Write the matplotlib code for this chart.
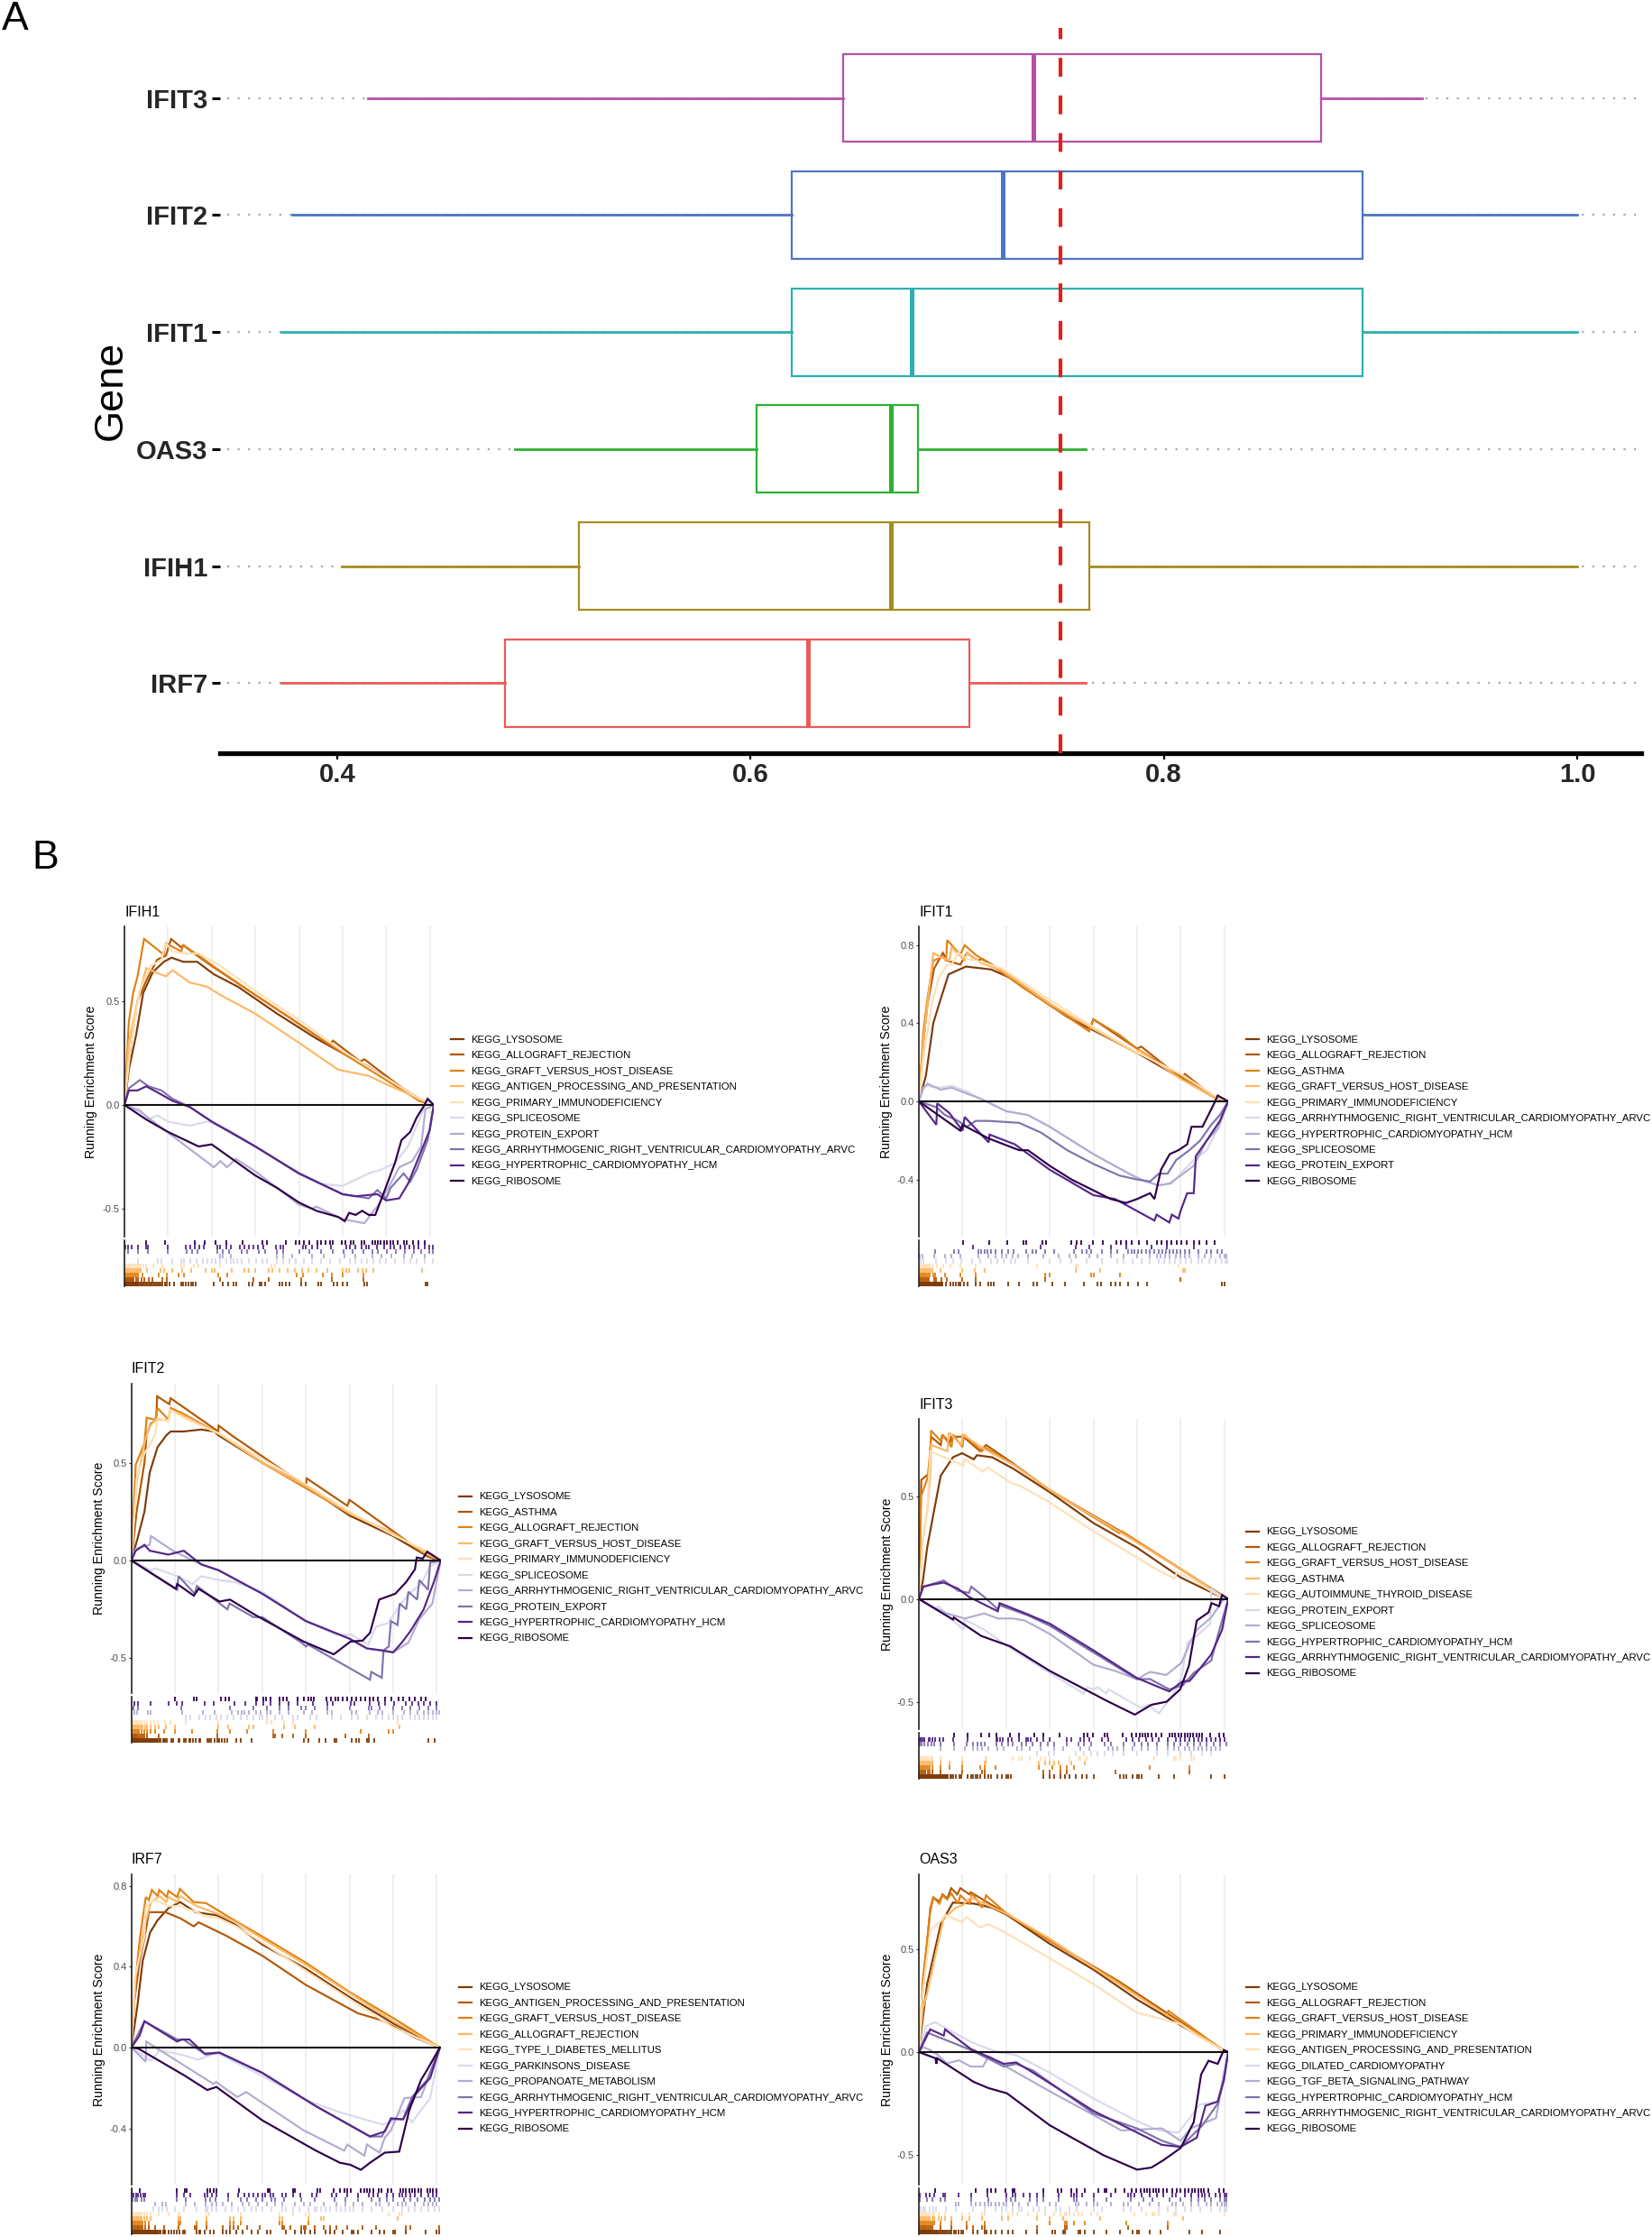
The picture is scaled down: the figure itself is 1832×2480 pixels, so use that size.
import matplotlib
matplotlib.use("Agg")
import matplotlib.pyplot as plt
from matplotlib.lines import Line2D

plt.rcParams['font.family'] = ['Liberation Sans', 'DejaVu Sans']

W, H = 1832, 2480

# ---------------- Panel A data ----------------
genes = ['IRF7', 'IFIH1', 'OAS3', 'IFIT1', 'IFIT2', 'IFIT3']
box_low = [0.373, 0.402, 0.486, 0.373, 0.378, 0.415]
box_q1 = [0.481, 0.517, 0.603, 0.620, 0.620, 0.645]
box_med = [0.628, 0.668, 0.668, 0.678, 0.722, 0.737]
box_q3 = [0.706, 0.764, 0.681, 0.896, 0.896, 0.876]
box_high = [0.762, 1.000, 0.762, 1.000, 1.000, 0.925]
box_colors = ['#EA5B5B', '#A58C1E', '#2DB034', '#2BAFB0', '#4C76C4', '#B94FA8']
dot_low = 0.347
dot_high = 1.03
threshold = 0.75
x_ticks_a = [0.4, 0.6, 0.8, 1.0]

# ---------------- Panel B data ----------------
palette = ['#7F3B08', '#B35806', '#E08214', '#FDB863', '#FEE0B6',
           '#D8DAEB', '#B2ABD2', '#8073AC', '#542788', '#2D004B']

IFIH1_terms = ['KEGG_LYSOSOME', 'KEGG_ALLOGRAFT_REJECTION', 'KEGG_GRAFT_VERSUS_HOST_DISEASE',
               'KEGG_ANTIGEN_PROCESSING_AND_PRESENTATION', 'KEGG_PRIMARY_IMMUNODEFICIENCY',
               'KEGG_SPLICEOSOME', 'KEGG_PROTEIN_EXPORT',
               'KEGG_ARRHYTHMOGENIC_RIGHT_VENTRICULAR_CARDIOMYOPATHY_ARVC',
               'KEGG_HYPERTROPHIC_CARDIOMYOPATHY_HCM', 'KEGG_RIBOSOME']
IFIT1_terms = ['KEGG_LYSOSOME', 'KEGG_ALLOGRAFT_REJECTION', 'KEGG_ASTHMA',
               'KEGG_GRAFT_VERSUS_HOST_DISEASE', 'KEGG_PRIMARY_IMMUNODEFICIENCY',
               'KEGG_ARRHYTHMOGENIC_RIGHT_VENTRICULAR_CARDIOMYOPATHY_ARVC',
               'KEGG_HYPERTROPHIC_CARDIOMYOPATHY_HCM', 'KEGG_SPLICEOSOME',
               'KEGG_PROTEIN_EXPORT', 'KEGG_RIBOSOME']
IFIT2_terms = ['KEGG_LYSOSOME', 'KEGG_ASTHMA', 'KEGG_ALLOGRAFT_REJECTION',
               'KEGG_GRAFT_VERSUS_HOST_DISEASE', 'KEGG_PRIMARY_IMMUNODEFICIENCY',
               'KEGG_SPLICEOSOME', 'KEGG_ARRHYTHMOGENIC_RIGHT_VENTRICULAR_CARDIOMYOPATHY_ARVC',
               'KEGG_PROTEIN_EXPORT', 'KEGG_HYPERTROPHIC_CARDIOMYOPATHY_HCM', 'KEGG_RIBOSOME']
IFIT3_terms = ['KEGG_LYSOSOME', 'KEGG_ALLOGRAFT_REJECTION', 'KEGG_GRAFT_VERSUS_HOST_DISEASE',
               'KEGG_ASTHMA', 'KEGG_AUTOIMMUNE_THYROID_DISEASE', 'KEGG_PROTEIN_EXPORT',
               'KEGG_SPLICEOSOME', 'KEGG_HYPERTROPHIC_CARDIOMYOPATHY_HCM',
               'KEGG_ARRHYTHMOGENIC_RIGHT_VENTRICULAR_CARDIOMYOPATHY_ARVC', 'KEGG_RIBOSOME']
IRF7_terms = ['KEGG_LYSOSOME', 'KEGG_ANTIGEN_PROCESSING_AND_PRESENTATION',
              'KEGG_GRAFT_VERSUS_HOST_DISEASE', 'KEGG_ALLOGRAFT_REJECTION',
              'KEGG_TYPE_I_DIABETES_MELLITUS', 'KEGG_PARKINSONS_DISEASE',
              'KEGG_PROPANOATE_METABOLISM',
              'KEGG_ARRHYTHMOGENIC_RIGHT_VENTRICULAR_CARDIOMYOPATHY_ARVC',
              'KEGG_HYPERTROPHIC_CARDIOMYOPATHY_HCM', 'KEGG_RIBOSOME']
OAS3_terms = ['KEGG_LYSOSOME', 'KEGG_ALLOGRAFT_REJECTION', 'KEGG_GRAFT_VERSUS_HOST_DISEASE',
              'KEGG_PRIMARY_IMMUNODEFICIENCY', 'KEGG_ANTIGEN_PROCESSING_AND_PRESENTATION',
              'KEGG_DILATED_CARDIOMYOPATHY', 'KEGG_TGF_BETA_SIGNALING_PATHWAY',
              'KEGG_HYPERTROPHIC_CARDIOMYOPATHY_HCM',
              'KEGG_ARRHYTHMOGENIC_RIGHT_VENTRICULAR_CARDIOMYOPATHY_ARVC', 'KEGG_RIBOSOME']

IFIH1_curves = [
 ([0,.1,.27,.43,.65,.9,1.08,1.35,1.67,2.05,2.6,3.5,4.4,5.0,5.55,6.0,6.76,7.09],
  [0,.17,.34,.54,.64,.69,.71,.69,.69,.63,.57,.44,.32,.25,.19,.13,.03,0]),
 ([0,.15,.3,.5,.75,.95,1.07,1.3,1.35,1.6,2.0,2.5,3.0,3.8,4.7,4.78,5.4,5.5,6.0,6.76,7.09],
  [0,.3,.5,.6,.7,.72,.80,.76,.77,.73,.67,.6,.53,.42,.29,.31,.21,.22,.14,.02,0]),
 ([0,.1,.2,.3,.45,.9,.95,1.3,1.35,1.7,2.1,3,4,5,6,6.76,7.09],
  [0,.4,.54,.62,.80,.725,.78,.74,.77,.72,.66,.53,.39,.25,.12,.02,0]),
 ([0,.1,.3,.5,.7,.95,1.1,1.5,1.9,2.2,3,4,4.9,5.6,6,6.76,7.09],
  [0,.3,.5,.66,.64,.62,.65,.59,.57,.53,.44,.3,.17,.14,.10,.03,0]),
 ([0,.15,.35,.6,.85,.95,1.1,1.4,1.7,2.2,3,4,5,6,6.76,7.09],
  [0,.3,.55,.67,.70,.78,.74,.73,.73,.67,.55,.41,.26,.13,.03,0]),
 ([0,.35,.55,.75,1,1.5,1.9,2.4,3,3.7,4.5,5,5.2,5.4,5.6,5.9,6.2,6.5,6.8,6.95,7.09],
  [0,-.02,-.07,-.05,-.08,-.10,-.08,-.12,-.2,-.29,-.38,-.39,-.37,-.35,-.33,-.31,-.28,-.2,-.05,.02,0]),
 ([0,.35,2.05,2.2,2.35,2.55,3,4,4.3,4.4,4.7,5.0,5.5,5.75,5.8,6.1,6.3,6.6,6.8,6.9,7.09],
  [0,-.03,-.3,-.27,-.30,-.26,-.32,-.48,-.50,-.49,-.52,-.55,-.57,-.5,-.49,-.38,-.3,-.27,-.2,-.02,0]),
 ([0,.1,.35,.55,.85,1.1,1.5,2,3,4,5,5.3,5.6,5.8,6,6.1,6.4,6.55,6.7,6.95,7.09],
  [0,.08,.12,.09,.07,.03,-.01,-.08,-.2,-.33,-.43,-.44,-.45,-.41,-.45,-.40,-.33,-.37,-.31,-.17,0]),
 ([0,.1,.3,.5,.85,1.1,1.5,2,3,4,5,5.3,5.8,6,6.3,6.5,6.75,7,7.09],
  [0,.07,.07,.09,.05,.02,-.01,-.08,-.2,-.33,-.43,-.44,-.43,-.46,-.45,-.38,-.25,-.12,0]),
 ([0,.5,1,1.7,2,2.4,3,3.5,4,4.4,4.9,5.05,5.15,5.3,5.45,5.6,5.75,5.95,6.2,6.35,6.55,6.7,6.85,6.95,7.09],
  [0,-.07,-.13,-.2,-.19,-.25,-.34,-.4,-.47,-.51,-.54,-.56,-.52,-.53,-.51,-.53,-.53,-.42,-.28,-.17,-.13,-.06,-.01,.03,0]),
]
IFIT1_curves = [
 ([0,.16,.33,.48,.68,1.08,1.66,2.11,3.38,4.99,6.77,7.09],
  [0,.13,.40,.51,.65,.69,.675,.63,.435,.25,.02,0]),
 ([0,.1,.2,.35,.55,.65,.95,1.1,1.35,1.45,1.9,3,3.9,4,5,5.1,6,6.1,6.77,7.09],
  [0,.3,.5,.68,.76,.72,.70,.76,.72,.73,.67,.50,.36,.42,.27,.28,.12,.14,.02,0]),
 ([0,.1,.2,.33,.55,.62,.65,.95,1.05,1.3,1.5,1.9,2.4,3.9,4.0,4.6,5,6,6.77,7.09],
  [0,.35,.53,.72,.74,.72,.825,.75,.80,.75,.72,.66,.58,.36,.42,.34,.27,.13,.02,0]),
 ([0,.1,.2,.33,.5,.7,.75,1.05,1.1,1.4,1.9,3,4,5,5.05,6,6.77,7.09],
  [0,.3,.5,.76,.74,.72,.79,.72,.76,.71,.67,.50,.37,.245,.26,.115,.02,0]),
 ([0,.12,.3,.45,.65,.75,.9,1.1,1.5,1.9,3,4,5,6,6.77,7.09],
  [0,.25,.5,.63,.70,.70,.76,.73,.71,.68,.52,.38,.25,.14,.03,0]),
 ([0,.08,.15,.45,.75,1.1,1.45,2,2.5,3,3.5,4,4.9,5.2,5.5,5.8,6.0,6.3,6.6,6.9,7.09],
  [0,.05,.08,.07,.08,.05,.01,-.05,-.07,-.13,-.2,-.27,-.38,-.41,-.43,-.42,-.37,-.3,-.25,-.12,0]),
 ([0,.1,.2,.5,.75,1.1,1.45,2,2.5,3,3.5,4,4.9,5.2,5.5,5.75,6,6.3,6.6,6.85,7.09],
  [0,.07,.09,.06,.07,.04,.01,-.05,-.07,-.13,-.2,-.27,-.38,-.41,-.43,-.42,-.38,-.33,-.2,-.14,0]),
 ([0,.4,.6,.9,1.1,1.3,1.6,2.3,2.8,3.4,4,4.6,5.0,5.3,5.5,5.7,5.9,6.2,6.45,6.7,6.9,7.09],
  [0,-.03,-.07,-.1,-.13,-.1,-.1,-.11,-.16,-.25,-.32,-.38,-.40,-.41,-.37,-.37,-.30,-.25,-.2,-.12,-.07,0]),
 ([0,.4,.42,.7,1.0,1.05,1.6,1.62,2.2,3,4,4.5,5.4,5.45,5.74,5.8,5.95,6,6.15,6.3,6.35,6.6,6.9,7.09],
  [0,-.12,-.01,-.06,-.15,-.08,-.21,-.17,-.22,-.35,-.48,-.50,-.61,-.58,-.62,-.58,-.6,-.56,-.47,-.47,-.28,-.2,-.1,0]),
 ([0,.95,1.0,1.6,2.3,2.5,3,3.5,4.4,4.75,5.0,5.3,5.4,5.55,5.75,5.95,6.15,6.25,6.5,6.77,6.85,7.09],
  [0,-.15,-.12,-.19,-.25,-.25,-.33,-.40,-.50,-.52,-.5,-.47,-.5,-.35,-.27,-.25,-.22,-.13,-.13,-.01,.03,0]),
]
IFIT2_curves = [
 ([0,.15,.3,.42,.6,.8,.9,1.2,1.6,1.9,2.0,3,4,5,6,6.8,7.09],
  [0,.12,.25,.45,.58,.64,.66,.66,.67,.66,.64,.50,.38,.23,.125,.02,0]),
 ([0,.12,.3,.35,.45,.57,.59,.87,.9,1.99,2.0,2.3,4,4.02,4.95,5.0,6,6.8,7.09],
  [0,.25,.5,.65,.70,.72,.84,.80,.83,.66,.69,.64,.38,.42,.28,.31,.15,.02,0]),
 ([0,.1,.3,.35,.55,.6,.85,.9,1.2,2,3,4,5,6,6.8,7.09],
  [0,.49,.6,.73,.72,.78,.72,.78,.75,.65,.50,.37,.24,.14,.03,0]),
 ([0,.12,.3,.4,.55,.85,.9,1.3,2,3,4,5,6,6.8,7.09],
  [0,.4,.6,.68,.72,.72,.77,.73,.65,.5,.38,.24,.14,.03,0]),
 ([0,.12,.3,.45,.55,.6,.85,.9,1.2,2,3,4,5,6,6.85,7.09],
  [0,.42,.55,.6,.65,.73,.71,.77,.73,.65,.52,.39,.25,.13,.04,0]),
 ([0,.45,.54,1.05,1.4,1.6,2,2.37,3,4,4.7,5.05,5.43,5.6,5.88,6.16,6.36,6.64,6.85,7.09],
  [0,-.05,-.04,-.08,-.12,-.08,-.1,-.11,-.16,-.31,-.38,-.38,-.43,-.34,-.32,-.23,-.17,-.12,-.03,0]),
 ([0,.1,.42,.45,.95,1.5,2,3,4,5,5.4,5.7,6,6.35,6.6,6.9,7.09],
  [0,.06,.08,.125,.05,-.01,-.05,-.17,-.31,-.40,-.45,-.46,-.47,-.42,-.30,-.22,0]),
 ([0,1.05,1.08,1.45,1.5,2.2,2.25,2.8,3,3.9,4,4.05,5.47,5.5,5.74,5.78,5.9,5.95,6.1,6.15,6.3,6.35,6.55,6.6,6.8,6.85,7.09],
  [0,-.15,-.08,-.17,-.13,-.25,-.22,-.29,-.29,-.42,-.44,-.43,-.61,-.57,-.6,-.46,-.44,-.31,-.33,-.22,-.25,-.16,-.2,-.1,-.15,-.01,0]),
 ([0,.1,.3,.42,.85,1.2,1.6,2,3,4,5,5.4,5.75,6,6.2,6.4,6.7,6.95,7.09],
  [0,.05,.08,.05,.03,.05,-.02,-.05,-.17,-.31,-.40,-.45,-.46,-.47,-.42,-.36,-.25,-.10,0]),
 ([0,1.02,1.05,1.43,1.54,2.02,2.26,2.85,3.95,4.64,5.02,5.3,5.47,5.68,6.05,6.3,6.5,6.54,6.68,6.78,7.09],
  [0,-.145,-.12,-.18,-.145,-.21,-.2,-.28,-.415,-.48,-.415,-.41,-.37,-.2,-.17,-.11,-.045,.015,.01,.045,0]),
]
IFIT3_curves = [
 ([0,.09,.19,.33,.5,.78,.99,1.26,1.33,1.68,2.16,3,4,5,6,6.92,7.09],
  [0,.085,.25,.41,.6,.69,.71,.68,.70,.69,.635,.52,.37,.25,.105,.01,0]),
 ([0,.055,.23,.26,.28,.5,.54,.71,.74,1.02,1.4,1.54,2.16,3,4.54,6.19,7.09],
  [0,.58,.61,.72,.79,.75,.80,.76,.79,.79,.72,.75,.66,.53,.34,.12,0]),
 ([0,.05,.2,.26,.28,.5,.54,.75,.78,1.0,1.03,1.45,1.5,2.2,3,4.6,4.65,6.2,6.9,7.09],
  [0,.5,.59,.72,.82,.77,.80,.74,.80,.74,.80,.72,.74,.65,.53,.32,.33,.12,.02,0]),
 ([0,.1,.2,.26,.28,.65,.69,.98,1.0,1.5,2.2,3,4.5,6.2,6.9,7.09],
  [0,.3,.45,.6,.75,.72,.81,.75,.80,.73,.65,.53,.34,.12,.02,0]),
 ([0,.1,.2,.26,1.02,1.05,1.47,1.57,2.16,2.33,3,4,5.4,5.85,5.92,6.23,6.92,7.09],
  [0,.3,.45,.72,.65,.68,.62,.64,.56,.55,.47,.33,.15,.10,.13,.10,.01,0]),
 ([0,.38,.45,1.02,1.05,1.5,2.1,3,3.78,3.85,4.02,4.1,4.3,4.35,5.09,5.26,5.5,5.81,6.02,6.16,6.37,6.68,6.7,6.95,7.09],
  [0,-.045,-.035,-.15,-.1,-.15,-.24,-.36,-.46,-.43,-.44,-.43,-.46,-.44,-.53,-.515,-.557,-.47,-.38,-.21,-.18,-.12,.05,.01,0]),
 ([0,.38,.64,1.05,1.5,1.81,2.16,2.43,3,4,4.5,5,5.3,5.67,6.02,6.2,6.37,6.7,6.99,7.09],
  [0,-.045,-.07,-.095,-.07,-.095,-.095,-.105,-.17,-.32,-.35,-.39,-.355,-.37,-.31,-.22,-.15,-.09,0,0]),
 ([0,.1,.57,.9,1.15,1.2,1.5,1.81,1.85,2.5,3,4,5,5.3,5.74,6.05,6.3,6.7,6.85,7.09],
  [0,.06,.09,.04,.03,.06,.01,-.05,-.03,-.08,-.13,-.26,-.39,-.39,-.44,-.42,-.36,-.3,-.18,0]),
 ([0,.1,.3,.57,.9,1.15,1.81,1.85,2.5,3,4,5,5.74,6.05,6.2,6.4,6.7,6.95,7.09],
  [0,.06,.07,.08,.05,.01,-.06,-.02,-.075,-.12,-.25,-.385,-.45,-.40,-.4,-.35,-.27,-.15,0]),
 ([0,.78,.8,1.43,2.09,3,4.3,4.95,5.33,5.68,5.99,6.19,6.37,6.64,6.71,6.88,6.95,7.09],
  [0,-.1,-.09,-.18,-.23,-.35,-.495,-.563,-.515,-.5,-.44,-.325,-.105,-.065,-.02,-.035,.02,0]),
]
IRF7_curves = [
 ([0,.14,.26,.43,.6,.85,1.12,1.47,1.95,2.37,3,4,5,6,7.07],
  [0,.21,.43,.57,.63,.69,.72,.67,.655,.61,.51,.39,.25,.12,0]),
 ([0,.055,.19,.3,.4,.78,1.12,1.43,1.54,2.16,3,4,5.19,5.74,6.5,7.07],
  [0,.21,.43,.54,.67,.67,.64,.60,.62,.555,.455,.31,.17,.135,.05,0]),
 ([0,.1,.2,.33,.4,.47,.6,.64,.81,.85,1.05,1.11,1.43,1.71,2.4,3,4,5,6.05,7.07],
  [0,.35,.55,.745,.73,.78,.75,.78,.745,.775,.745,.785,.72,.715,.625,.55,.42,.275,.14,0]),
 ([0,.1,.3,.45,.65,.8,.85,1.05,1.11,1.5,2,2.4,3,4,5,6,7.07],
  [0,.35,.6,.72,.75,.72,.745,.72,.75,.70,.66,.62,.54,.41,.27,.13,0]),
 ([0,.08,.3,.33,.5,.55,.85,1.1,1.5,1.7,2,2.4,3,4,5,6,7.07],
  [0,.35,.55,.7,.73,.73,.70,.70,.67,.65,.64,.6,.52,.38,.24,.10,0]),
 ([0,.45,.64,1.05,1.54,1.95,3,4,4.78,5.74,5.95,6.23,6.43,6.85,7.07],
  [0,-.065,-.015,-.03,-.06,-.025,-.14,-.26,-.32,-.38,-.37,-.31,-.37,-.25,0]),
 ([0,.33,.34,1.88,1.94,2.43,2.63,3.95,4.88,4.95,5.34,5.4,5.69,5.81,5.95,6.26,6.64,7.07],
  [0,-.07,.03,-.18,-.17,-.245,-.22,-.41,-.51,-.48,-.535,-.48,-.52,-.445,-.41,-.25,-.245,0]),
 ([0,.3,1.05,1.19,1.71,2.02,3,4.23,5.47,5.74,5.95,6.23,6.43,6.78,7.07],
  [0,.13,.04,.04,-.035,-.025,-.125,-.29,-.44,-.44,-.355,-.355,-.245,-.16,0]),
 ([0,.19,.3,1.05,1.16,1.33,1.68,2.02,3,4.23,5.47,5.81,5.95,6.23,6.5,6.85,7.07],
  [0,.06,.13,.03,.04,.04,-.03,-.025,-.125,-.29,-.44,-.415,-.35,-.355,-.235,-.15,0]),
 ([0,.16,1.23,1.74,1.95,3,4.23,4.78,5.02,5.26,5.47,5.81,6.14,6.37,6.64,6.78,7.07],
  [0,-.005,-.14,-.21,-.195,-.36,-.51,-.57,-.58,-.605,-.57,-.52,-.515,-.31,-.16,-.11,0]),
]
OAS3_curves = [
 ([0,.1,.19,.33,.5,.78,1.26,1.68,2.02,3,4,5,6,6.97,7.09],
  [0,.18,.33,.46,.62,.725,.72,.70,.665,.525,.40,.255,.13,.01,0]),
 ([0,.09,.26,.33,.47,.54,.65,.74,.88,.95,1.16,1.19,1.54,2.02,3,4.57,5.68,6.97,7.09],
  [0,.30,.695,.75,.73,.765,.745,.795,.765,.795,.765,.775,.73,.67,.54,.345,.19,.01,0]),
 ([0,.09,.26,.33,.47,.54,.65,.74,.9,.95,1.16,1.22,1.45,1.54,2.02,3,4.5,5.68,5.72,6.97,7.09],
  [0,.35,.68,.75,.72,.76,.74,.77,.72,.76,.72,.77,.70,.76,.67,.54,.35,.18,.2,.01,0]),
 ([0,.09,.19,.4,.57,.85,1.02,1.19,1.4,2.02,3,4,5.68,6.97,7.09],
  [0,.21,.285,.49,.65,.70,.715,.75,.73,.67,.55,.41,.18,.01,0]),
 ([0,.055,.26,.5,.6,.99,1.09,1.4,1.6,2.02,3,4,5,5.4,6,6.37,6.97,7.09],
  [0,.23,.59,.635,.665,.63,.655,.605,.62,.575,.455,.33,.19,.17,.135,.08,.01,0]),
 ([0,.16,.37,1.19,1.54,1.81,2.23,3,4,5,5.5,5.95,6.19,6.43,6.85,7.09],
  [0,.125,.145,.05,.02,0,-.015,-.1,-.225,-.335,-.38,-.39,-.325,-.255,-.24,0]),
 ([0,.09,.26,.43,.64,.92,1.19,1.47,1.6,1.95,3,4,4.64,5.57,6,6.23,6.81,7.09],
  [0,.025,.01,-.013,-.055,-.04,-.07,-.07,-.02,-.065,-.19,-.305,-.38,-.37,-.43,-.37,-.32,0]),
 ([0,.19,1.19,1.95,2.23,2.62,4,5,5.57,6,6.5,6.85,6.99,7.09],
  [0,.095,.01,-.07,-.057,-.09,-.297,-.37,-.43,-.46,-.355,-.25,-.137,0]),
 ([0,.26,.57,.6,1.19,1.95,2.23,2.62,4,5,5.57,6,6.37,6.57,6.85,6.99,7.09],
  [0,.11,.08,.11,.015,-.057,-.05,-.1,-.285,-.39,-.45,-.46,-.415,-.26,-.24,-.137,0]),
 ([0,.38,.4,.42,1.26,1.6,2.02,3,4.23,5,5.33,5.6,6,6.3,6.47,6.64,6.85,6.99,7.09],
  [0,-.03,-.057,-.03,-.145,-.175,-.2,-.355,-.5,-.57,-.56,-.525,-.465,-.34,-.108,-.042,-.057,.01,0]),
]

# Rug hit positions, in hundredths of a gridline interval, listed by term
IFIH1_rug = [
 [0,2,4,6,8,10,12,14,16,18,20,22,24,26,28,31,34,37,40,43,46,49,52,56,60,63,66,70,74,78,82,86,92,97,103,113,130,135,140,146,152,157,163,205,225,238,250,256,285,294,310,315,322,355,361,370,378,405,415,445,450,480,487,500,510,550,557,690,695],
 [0,2,4,6,8,10,12,14,16,18,20,26,32,40,46,55,65,86,97,220,296,330,405,475,548],
 [0,3,6,9,12,15,18,21,24,27,30,41,78,97,124,136,216,236,395,410,455,475,500,548],
 [1,4,7,10,13,16,19,22,25,28,31,34,38,52,82,90,110,133,152,187,200,207,246,275,285,300,330,340,355,375,390,407,422,440,465,500,508,515,535,545,555,570,682],
 [2,6,10,14,18,22,26,30,34,38,44,50,66,86,130,136,160,170,220,337,345],
 [30,76,85,109,131,136,150,165,180,190,200,209,219,233,243,250,258,268,285,302,316,326,350,364,378,392,412,430,450,471,495,516,530,543,557,570,585,600,620,640,655,670,688,706],
 [219,226,243,350,364,385,430,457,505,530,568,590,612,640,660,688],
 [9,30,54,99,143,155,168,212,226,240,268,282,309,323,350,364,402,423,450,478,502,523,547,568,581,602,623,643,664,681,699,706],
 [2,9,16,30,50,54,99,140,150,161,171,181,212,219,233,243,264,274,285,295,305,319,347,357,364,409,416,430,443,474,509,516,530,543,554,561,578,595,609,619,633,643,654,664,674,688,699,706],
 [0,50,92,161,185,209,233,271,316,326,371,392,402,412,423,443,450,461,471,478,499,506,519,526,543,550,568,574,581,588,595,602,609,616,626,640,647,661,674,688],
]
IFIT1_rug = [
 [0,2,4,6,8,10,12,14,16,18,20,22,24,26,28,30,32,34,36,38,40,42,44,46,48,50,52,54,62,72,78,84,90,96,103,112,130,140,160,165,172,205,230,262,270,305,335,378,410,418,440,450,460,480,502,522,695,700],
 [0,2,4,7,10,13,16,19,22,35,40,52,64,100,130,290,600],
 [1,4,7,10,13,16,20,25,34,38,60,95,130,290,300,395,400,460],
 [1,4,7,10,13,16,19,22,26,32,50,100,128,150,360,415,605,610],
 [0,3,6,9,12,15,18,21,25,30,42,55,72,95,130,270,360,364,595],
 [5,10,40,62,78,97,122,140,165,180,195,210,222,250,300,325,350,385,420,455,470,490,510,530,550,562,575,588,600,612,625,640,650,665,680,695,702,706],
 [3,8,35,60,75,95,137,160,175,190,200,215,228,250,285,320,345,360,390,410,440,470,500,530,545,555,565,575,590,600,610,620,640,655,670,690,700,705],
 [37,80,90,137,142,150,158,166,175,190,205,218,245,260,268,290,310,355,375,385,395,420,440,455,480,487,495,502,510,520,530,540,550,558,566,575,583,592,600,610,620,640,660,670,685,695],
 [125,280,359,390,441,476,533,568,631],
 [102,162,203,240,246,283,292,349,361,372,398,422,453,464,476,487,505,522,545,556,568,579,591,602,614,631,642,660,677],
]
IFIT2_rug = [
 [1,3,5,7,9,11,13,15,17,19,21,23,25,27,29,31,33,35,37,39,41,43,45,47,49,51,53,55,57,59,61,64,67,72,75,78,82,92,95,108,111,120,125,132,136,142,148,155,158,175,178,182,190,197,202,208,213,220,240,250,275,395,405,430,445,465,470,505,515,522,540,545,556,680,695],
 [0,2,4,6,8,10,14,18,22,26,30,36,62,198,325,330,345,370,400,490,545],
 [0,3,6,9,12,15,18,24,30,36,44,55,75,100,140,198,225,265,325,400,525,590,600],
 [0,3,6,9,12,15,18,22,26,31,35,45,55,62,80,100,200,222,270,280,350,375,420,615],
 [1,4,7,10,13,16,20,24,30,36,45,52,60,78,90,125,200,310,320,350,370,610],
 [125,135,155,170,180,195,205,220,235,250,265,280,295,300,310,330,345,370,380,410,425,460,480,505,520,540,560,575,590,600,610,620,640,650,660,670,680,690,700],
 [6,12,37,43,116,163,190,230,245,253,260,270,285,297,310,319,340,361,396,415,450,460,505,515,547,565,575,600,625,640,655,670,680,690,700,706],
 [5,16,115,225,280,310,340,361,390,400,420,450,500,545,550,570,600,620,640,660,680,700],
 [6,16,43,85,105,116,168,188,237,261,285,302,319,340,361,381,416,450,461,502,512,547,568,581,602,630,643,657,671,685,699],
 [100,143,150,206,216,223,285,288,302,309,319,340,347,357,381,395,406,412,419,447,457,468,474,485,495,506,516,526,537,547,554,564,581,595,612,623,637,650,664,674],
]
IFIT3_rug = [
 [1,3,5,7,9,11,13,15,17,19,21,23,25,27,29,31,33,35,37,39,41,43,45,47,49,51,53,55,57,59,61,64,67,72,75,78,85,92,98,112,120,125,130,135,140,150,160,165,180,190,200,205,210,285,300,310,325,335,345,360,375,385,400,460,470,475,490,500,505,510,550,585,670,700],
 [0,3,6,9,12,15,20,25,30,50,100,145,150,285,300,325,340,450,620],
 [0,3,6,9,12,16,20,25,30,50,70,100,140,150,175,275,305,325,340,355,530,620],
 [1,4,7,10,14,18,22,26,30,50,70,100,150,152,275,290,300,310,320,350,380],
 [1,4,7,10,13,16,20,26,30,50,100,153,155,215,230,235,255,280,290,300,345,365,370,385,540,585,590,600,625,630],
 [270,298,310,360,378,395,410,425,445,470,500,545,570,600,625,650,670],
 [50,80,105,125,135,145,160,180,195,225,235,255,280,310,330,370,390,435,445,455,470,490,510,525,545,570,585,595,610,620,630,640,650,660,670,680,690],
 [2,6,12,20,28,35,50,80,110,125,135,143,150,178,190,205,215,235,245,260,280,295,310,340,365,378,395,425,440,470,495,510,525,545,570,585,600,615,630,645,660,675,690,705],
 [1,3,5,8,13,22,25,30,38,47,56,78,112,178,180,186,192,205,212,230,245,250,257,270,286,300,340,350,370,378,390,420,435,475,490,505,520,535,550,570,590,600,610,620,630,640,650,660,670,680,690,700],
 [80,112,143,162,178,208,230,265,286,323,378,387,399,426,431,468,488,499,506,512,519,526,533,543,557,574,581,588,595,602,609,615,622,629,636,643,650,668,688,699],
]
IRF7_rug = [
 [1,3,5,7,9,11,13,15,17,19,21,23,25,27,29,31,33,35,37,39,41,43,45,47,49,51,53,55,57,59,61,64,67,72,75,78,85,92,98,105,110,118,122,150,155,157,168,180,188,210,218,225,240,255,275,290,310,318,355,375,390,398,410,420,445,455,465,485,505,510,520,550,570,580,600,605,630,675,700,705],
 [0,3,6,9,12,15,18,22,26,32,40,55,75,108,145,150,172,210,225,235,245,265,295,345,350,365,390,395,400,420,440,455,470,495,530,560,630,640,705],
 [0,3,6,9,12,15,18,22,26,32,40,108,112,150,172,225,235,250,340,345,405],
 [1,4,7,10,13,16,20,24,30,36,45,108,112,172,225,235,250,340,345,405,435,440,610],
 [1,4,7,10,13,16,20,24,30,36,45,62,85,108,110,172,178,250,340,370,400,408,590,615,620],
 [50,62,70,82,100,120,150,170,175,185,195,215,230,245,260,275,285,300,320,345,355,370,385,405,420,425,435,445,455,470,480,490,500,510,530,550,575,600,620,635,650,665,680,695,705],
 [55,70,80,125,145,170,185,195,210,230,255,270,290,310,330,345,375,395,410,440,470,490,510,530,560,570,590,610,620,630,650,670,680,690,700],
 [3,8,13,24,30,105,125,170,180,192,222,250,265,285,300,320,330,350,390,420,465,490,520,550,570,585,600,625,640,655,672,685,695,705],
 [1,5,10,15,22,27,32,105,120,135,168,175,185,195,222,245,260,270,280,290,300,307,318,325,345,355,370,388,415,425,460,470,495,520,545,555,565,585,600,615,620,630,640,650,665,680,690,700],
 [0,19,105,123,126,174,181,188,195,247,312,316,371,374,426,433,464,478,488,495,502,526,533,540,547,554,568,574,588,595,616,623,630,637,643,650,657,664,678,685,692,699],
]
OAS3_rug = [
 [1,3,5,7,9,11,13,15,17,19,21,23,25,27,29,31,33,35,37,39,41,44,47,50,53,56,59,62,66,70,75,80,85,90,98,102,125,135,150,155,165,175,190,205,215,245,270,305,312,330,335,365,370,380,400,430,460,490,500,505,530,555,620,650,690],
 [0,3,6,9,12,15,18,22,26,30,50,75,110,125,145,150,270,335,340,480,570],
 [0,3,6,9,12,15,18,22,26,30,35,50,75,110,150,300,335,340,355,380,475,570],
 [1,4,7,10,13,16,20,24,30,36,45,52,60,75,100,115,145,190,205,270,300,330,415,605],
 [1,4,7,10,13,16,20,24,30,36,45,60,100,115,145,150,190,205,215,225,250,270,290,310,325,335,340,345,355,365,375,395,410,495,520,535,540,550,585,590,700],
 [5,10,15,25,33,40,62,85,125,150,175,190,200,215,230,235,262,275,290,315,325,345,362,400,420,470,485,510,550,570,590,610,625,645,670,690,700,705],
 [85,90,120,130,140,150,160,165,175,185,195,200,215,230,250,270,300,315,360,365,385,400,410,440,470,480,505,530,550,580,590,605,625,640,660,670,685,695,700,705],
 [1,3,18,30,50,60,120,160,200,210,222,255,270,285,320,355,362,400,430,485,515,535,575,600,625,640,655,670,690,700,705],
 [1,3,16,24,35,55,60,90,120,157,200,215,222,240,255,270,285,320,350,355,362,375,400,440,480,485,495,510,530,545,560,580,590,610,625,640,650,655,665,680,690,700,704],
 [38,130,157,166,176,199,216,219,285,319,326,350,361,381,412,426,430,450,471,488,499,509,516,523,530,537,543,550,561,568,581,592,599,609,619,626,633,640,647,654,664,688,699],
]

gridlines = [1, 2, 3, 4, 5, 6, 7]

fig = plt.figure(figsize=(W / 100, H / 100), dpi=100, facecolor='white')


def fx(x):
    return x / W


def fy(y):
    return 1 - y / H


def add_ax(left, top, right, bottom):
    return fig.add_axes([fx(left), fy(bottom), (right - left) / W, (bottom - top) / H])


# ---------------- Panel A ----------------
ax = add_ax(244, 31, 1820, 835)
ypos = list(range(1, len(genes) + 1))
ax.hlines(ypos, dot_low, dot_high, colors='#A8A8A8', lw=1.6, linestyles=[(0, (1, 4.2))], zorder=1)
for i, g in enumerate(genes):
    stats = [dict(med=box_med[i], q1=box_q1[i], q3=box_q3[i],
                  whislo=box_low[i], whishi=box_high[i], fliers=[], label=g)]
    c = box_colors[i]
    ax.bxp(stats, positions=[ypos[i]], widths=0.75, orientation='horizontal',
           showcaps=False, showfliers=False, manage_ticks=False, patch_artist=True,
           boxprops=dict(edgecolor=c, facecolor='white', lw=1.6), whiskerprops=dict(color=c, lw=2.0),
           medianprops=dict(color=c, lw=3.6, solid_capstyle='butt'), zorder=2)
ax.axvline(threshold, color='#E1201E', lw=3.0, ls=(0, (5, 5)), zorder=3)
ax.set_xlim(0.3433, 1.031)
ax.set_ylim(0.4, 6.6)
ax.set_yticks(ypos)
ax.set_yticklabels(genes, fontsize=21, fontweight='bold', color='#262626')
ax.set_xticks(x_ticks_a)
ax.set_xticklabels([f'{v:.1f}' for v in x_ticks_a], fontsize=21, fontweight='bold', color='#262626')
ax.tick_params(axis='y', length=6.5, width=2.2, color='black', pad=3.5)
ax.tick_params(axis='x', length=5, width=1.6, color='black', pad=2.5)
for s in ['top', 'right', 'left']:
    ax.spines[s].set_visible(False)
ax.spines['bottom'].set_linewidth(3.8)
ax.patch.set_alpha(0)
fig.text(fx(123), fy(433), 'Gene', rotation=90, fontsize=32.5, ha='center', va='center', color='black')
fig.text(fx(2), fy(33), 'A', fontsize=32, ha='left', va='baseline', color='black')
fig.text(fx(35), fy(963), 'B', fontsize=32, ha='left', va='baseline', color='black')

# ---------------- Panel B ----------------
panels = [
    ('IFIH1', IFIH1_curves, IFIH1_rug, IFIH1_terms, 138, 1027, 1371, 1225, 230.0, [-.5, 0, .5], 101, 1152, 500),
    ('IFIT1', IFIT1_curves, IFIT1_rug, IFIT1_terms, 1019, 1027, 1371, 1221, 216.6, [-.4, 0, .4, .8], 983, 1152, 1382),
    ('IFIT2', IFIT2_curves, IFIT2_rug, IFIT2_terms, 145.7, 1534, 1877, 1730, 216.7, [-.5, 0, .5], 110, 1658.5, 509),
    ('IFIT3', IFIT3_curves, IFIT3_rug, IFIT3_terms, 1019, 1573, 1917, 1772.7, 227.7, [-.5, 0, .5], 984, 1697.5, 1382),
    ('IRF7', IRF7_curves, IRF7_rug, IRF7_terms, 145.7, 2078, 2422, 2270, 224.0, [-.4, 0, .4, .8], 110, 2202.5, 509),
    ('OAS3', OAS3_curves, OAS3_rug, OAS3_terms, 1019, 2078, 2422, 2275, 228.6, [-.5, 0, .5], 984, 2202.5, 1382),
]
for name, curves, rug, terms, left, top, bottom, zero, pxu, yticks, ylab_x, leg_y, key_x in panels:
    right = left + 343
    a = add_ax(left, top, right, bottom)
    for g in gridlines:
        a.axvline(g, color='#EBEBEB', lw=1.1, zorder=0)
    for k, (cx, cy) in enumerate(curves):
        a.plot(cx, cy, color=palette[k], lw=1.55, solid_joinstyle='miter', zorder=2 + k * 0.01)
    a.axhline(0, color='#111111', lw=1.5, zorder=3)
    a.set_xlim(0, 7.09)
    a.set_ylim(-(bottom - zero) / pxu, (zero - top) / pxu)
    a.set_xticks([])
    a.set_yticks(yticks)
    a.set_yticklabels([f'{v:.1f}' for v in yticks], fontsize=8, color='#4D4D4D')
    a.tick_params(axis='y', length=2.2, width=0.8, color='#333333', pad=1.5)
    for s in ['top', 'right', 'bottom']:
        a.spines[s].set_visible(False)
    a.spines['left'].set_linewidth(1.2)
    a.spines['left'].set_color('#222222')
    fig.text(fx(left), fy(top - 16), name, fontsize=11.5, ha='left', va='center', color='black')
    fig.text(fx(ylab_x), fy((top + bottom) / 2), 'Running Enrichment Score', rotation=90,
             fontsize=10.2, ha='center', va='center', color='black')

    r = add_ax(left, bottom + 4, right, bottom + 55)
    for k, ticks in enumerate(rug):
        r.vlines([t / 100 for t in ticks], k, k + 1, color=palette[k], lw=1.3)
    r.set_xlim(0, 7.09)
    r.set_ylim(0, 10)
    r.set_xticks([])
    r.set_yticks([])
    for s in ['top', 'right', 'bottom']:
        r.spines[s].set_visible(False)
    r.spines['left'].set_linewidth(1.2)
    r.spines['left'].set_color('#222222')

    for k, term in enumerate(terms):
        yy = leg_y + 17.45 * k
        fig.add_artist(Line2D([fx(key_x), fx(key_x + 14)], [fy(yy), fy(yy)], color=palette[k], lw=1.6,
                              transform=fig.transFigure))
        fig.text(fx(key_x + 22), fy(yy), term, fontsize=8.2, ha='left', va='center', color='black')

fig.savefig('out.png', dpi=100, facecolor='white')
